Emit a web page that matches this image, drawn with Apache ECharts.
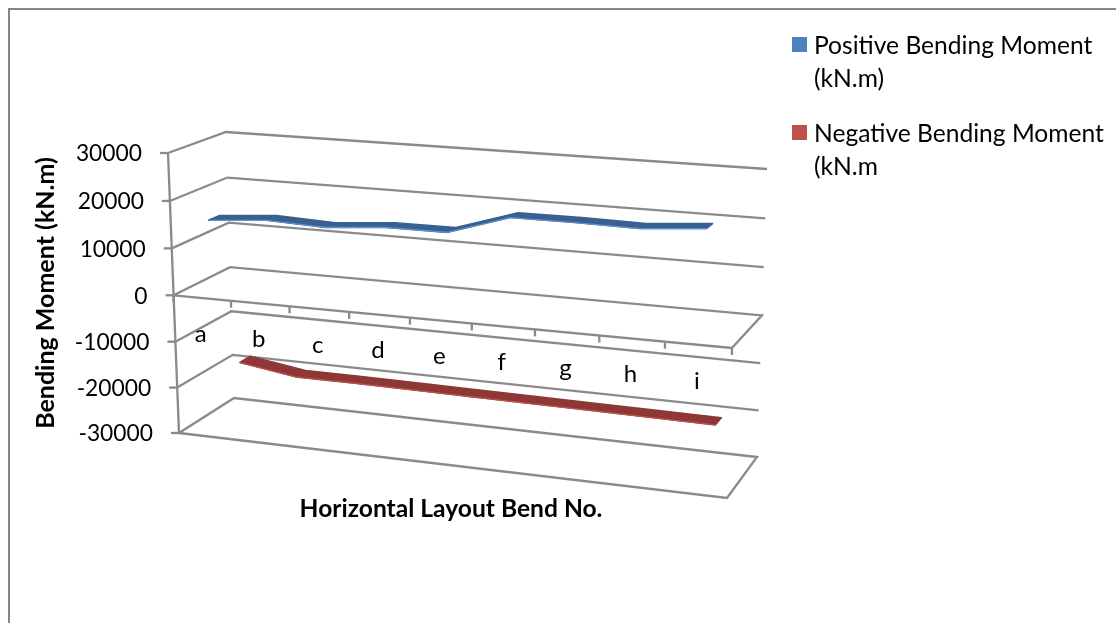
<!DOCTYPE html>
<html>
<head>
<meta charset="utf-8">
<title>Bending moment by bend</title>
<style>
  html, body { margin: 0; padding: 0; background: #fff; }
  #chart { width: 1116px; height: 623px; }
</style>
</head>
<body>
<div id="chart"></div>
<script src="https://cdn.jsdelivr.net/npm/echarts@6/dist/echarts.min.js"></script>
<script>
const categories = ["a", "b", "c", "d", "e", "f", "g", "h", "i"];
const positiveValues = [15600, 16600, 16100, 17100, 17100, 21100, 21100, 20900, 21900];
const negativeValues = [-18400, -20300, -20300, -20400, -20500, -20600, -20700, -20800, -20900];
const valueTicks = [30000, 20000, 10000, 0, -10000, -20000, -30000];

const FONT = "Lato";
const LINE = "#8a8a8a";
// legend swatch sits on the first text line, the empty lower part keeps it there
const SWATCH = "path://M0 0H15V15H0Z M0 52H17V52H0Z";

// 3D box as it lands on screen: [v=max, v=min] for the four vertical edges
const box = {
  frontLeft: [[168, 153], [179, 433]],
  backLeft: [[226, 132], [234, 398]],
  backRight: [[767, 169], [757, 457]],
  frontRight: [[737, 193], [727, 498]],
};

const GRID = { left: 174, top: 153, width: 554, height: 280 };

function lerp(a, b, t) {
  return a + (b - a) * t;
}
function mix(p, q, t) {
  return [lerp(p[0], q[0], t), lerp(p[1], q[1], t)];
}
// perspective foreshortening along an edge
function warp(n, k) {
  return n / (n + k * (1 - n));
}

// flat pixel from the hidden cartesian grid -> pixel in the tilted box. depth 0 = front, 1 = back
function project(flat, depth) {
  const t = warp((flat[0] - GRID.left) / GRID.width, 1.09);
  const s = warp((flat[1] - GRID.top) / GRID.height, 0.968);
  const front = mix(mix(box.frontLeft[0], box.frontRight[0], t), mix(box.frontLeft[1], box.frontRight[1], t), s);
  const back = mix(mix(box.backLeft[0], box.backRight[0], t), mix(box.backLeft[1], box.backRight[1], t), s);
  return mix(front, back, depth);
}

const lineStyle = { stroke: LINE, lineWidth: 2.3, fill: null };

function polyline(points) {
  return { type: "polyline", shape: { points }, style: lineStyle, silent: true };
}

// walls and floor, one datum per value tick
function renderWalls(params, api) {
  const v = api.value(0);
  const left = api.coord([0, v]);
  left[0] = GRID.left;
  const right = [GRID.left + GRID.width, left[1]];
  const closed = v === 0 || v === valueTicks[valueTicks.length - 1];
  const pts = [project(left, 0), project(left, 1), project(right, 1)];
  if (closed) pts.push(project(right, 0), project(left, 0));
  const tickStart = project(left, 0);
  const children = [
    polyline(pts),
    polyline([tickStart, [tickStart[0] - 8, tickStart[1]]]),
    {
      type: "text",
      style: {
        x: tickStart[0] - 26,
        y: tickStart[1] + 1,
        text: String(v),
        align: "right",
        verticalAlign: "middle",
        font: "22.8px " + FONT,
        fill: "#000",
      },
    },
  ];
  if (params.dataIndex === 0) {
    children.push(polyline([
      project([GRID.left, GRID.top], 0),
      project([GRID.left, GRID.top + GRID.height], 0),
    ]));
  }
  return { type: "group", children };
}

// bend labels and the ticks on the floor edge
function renderCategoryAxis(params, api) {
  const c = api.coord([api.value(0), 0]);
  const bw = api.size([1, 0])[0];
  const mid = project(c, 0);
  const tickA = project([c[0] + bw / 2, c[1]], 0);
  const children = [
    polyline([tickA, [tickA[0], tickA[1] + 7]]),
    {
      type: "text",
      style: {
        x: mid[0] - 1.5,
        y: mid[1] + 36,
        text: categories[params.dataIndex],
        align: "center",
        verticalAlign: "middle",
        font: "24px " + FONT,
        fill: "#000",
      },
    },
  ];
  if (params.dataIndex === 0) {
    const t0 = project([c[0] - bw / 2, c[1]], 0);
    children.push(polyline([t0, [t0[0], t0[1] + 7]]));
  }
  return { type: "group", children };
}

// a flat ribbon lying between two depths, drawn once from the whole series
function ribbonRenderer(values, depthFront, depthBack, dark, edge) {
  return function (params, api) {
    if (params.dataIndex !== 0) return null;
    const flat = values.map((v, i) => api.coord([i, v]));
    const front = flat.map((p) => project(p, depthFront));
    const back = flat.map((p) => project(p, depthBack));
    return {
      type: "group",
      children: [
        {
          type: "polygon",
          shape: { points: back.concat(front.slice().reverse()) },
          style: { fill: dark, stroke: dark, lineWidth: 1.5, lineJoin: "round" },
        },
        {
          type: "polyline",
          shape: { points: front },
          style: { stroke: edge, lineWidth: 1.2, fill: null },
        },
      ],
    };
  };
}

const chart = echarts.init(document.getElementById("chart"), null, { renderer: "canvas" });

const option = {
  animation: false,
  backgroundColor: "#fff",
  textStyle: { fontFamily: FONT },
  graphic: [
    {
      type: "rect",
      silent: true,
      shape: { x: 9, y: 9, width: 1300, height: 800 },
      style: { fill: null, stroke: "#868686", lineWidth: 2 },
    },
  ],
  grid: GRID,
  xAxis: {
    type: "category",
    data: categories,
    name: "Horizontal Layout Bend No.",
    nameLocation: "middle",
    nameGap: 64,
    nameTextStyle: { fontFamily: FONT, fontSize: 24.6, fontWeight: "bold", color: "#000" },
    axisLine: { show: false, onZero: false },
    axisTick: { show: false },
    axisLabel: { show: false },
  },
  yAxis: {
    type: "value",
    min: -30000,
    max: 30000,
    interval: 10000,
    name: "Bending Moment (kN.m)",
    nameLocation: "middle",
    nameGap: 116,
    nameTextStyle: { fontFamily: FONT, fontSize: 25, fontWeight: "bold", color: "#000" },
    axisLine: { show: false },
    axisTick: { show: false },
    axisLabel: { show: false },
    splitLine: { show: false },
  },
  legend: {
    orient: "vertical",
    left: 787,
    top: 25,
    itemGap: 22,
    itemWidth: 17,
    itemHeight: 52,
    selectedMode: false,
    textStyle: { fontFamily: FONT, fontSize: 24.6, lineHeight: 33, color: "#000" },
    data: [
      { name: "Positive Bending Moment\n(kN.m)", icon: SWATCH },
      { name: "Negative Bending Moment\n(kN.m", icon: SWATCH },
    ],
  },
  series: [
    {
      type: "custom",
      silent: true,
      renderItem: renderWalls,
      data: valueTicks.map((v) => [v]),
      encode: { y: 0 },
      clip: false,
    },
    {
      type: "custom",
      silent: true,
      renderItem: renderCategoryAxis,
      data: categories.map((c, i) => [i]),
      encode: { x: 0 },
      clip: false,
    },
    {
      name: "Positive Bending Moment\n(kN.m)",
      type: "custom",
      silent: true,
      itemStyle: { color: "#4f81bd" },
      renderItem: ribbonRenderer(positiveValues, 0.16, 0.35, "#386090", "#5f93d2"),
      data: positiveValues.map((v, i) => [i, v]),
      clip: false,
    },
    {
      name: "Negative Bending Moment\n(kN.m",
      type: "custom",
      silent: true,
      itemStyle: { color: "#c0504d" },
      renderItem: ribbonRenderer(negativeValues, 0.64, 0.83, "#8d3836", "#c0504d"),
      data: negativeValues.map((v, i) => [i, v]),
      clip: false,
    },
  ],
};

chart.setOption(option);
window.addEventListener("resize", () => chart.resize());
</script>
</body>
</html>
